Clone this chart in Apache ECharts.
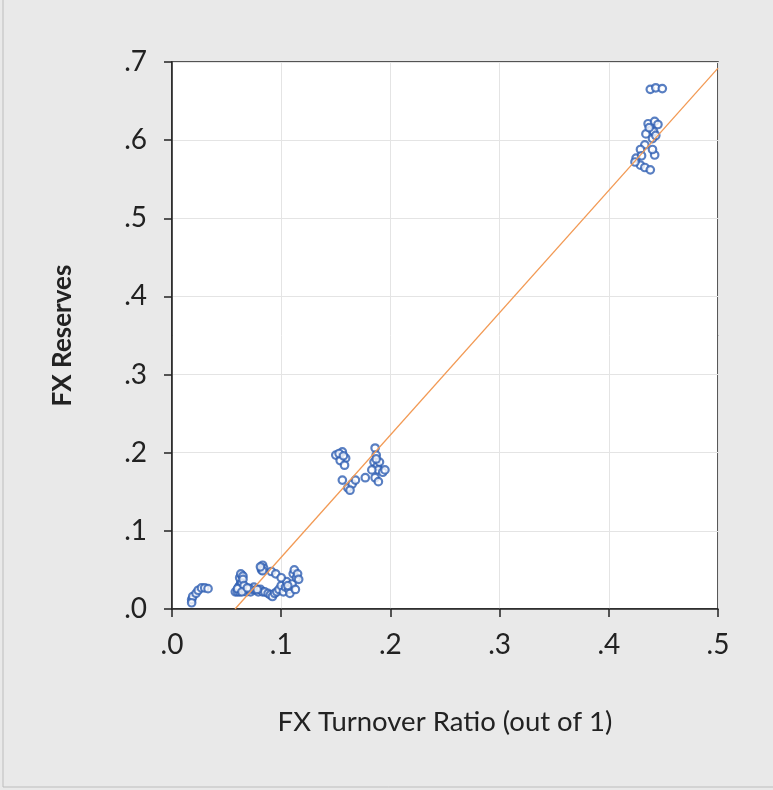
<!DOCTYPE html>
<html><head><meta charset="utf-8">
<script src="https://cdn.jsdelivr.net/npm/echarts@6/dist/echarts.min.js"></script>
<style>html,body{margin:0;padding:0;background:#e9e9e9;}#c{width:773px;height:790px;}</style>
</head><body><div id="c"></div>
<script>
// FX Turnover Ratio (x) and FX Reserves (y)
const turnover = [
 0.018,0.019,0.022,0.024,0.027,0.030,0.033,0.018,
 0.058,0.060,0.062,0.063,0.062,0.063,0.062,0.064,0.063,0.065,0.066,0.068,0.070,0.072,0.074,0.075,0.077,0.079,0.081,0.083,
 0.082,0.082,0.083,0.084,0.085,0.088,0.090,0.092,0.094,0.096,0.091,0.095,0.098,0.100,0.102,0.104,0.105,0.107,0.108,0.110,
 0.111,0.112,0.113,0.114,0.115,0.116,0.100,0.106,
 0.061,0.064,0.065,0.060,0.066,0.064,0.083,0.081,0.071,0.069,0.078,
 0.150,0.156,0.159,0.154,0.158,0.156,0.161,0.165,0.168,0.163,0.177,0.153,0.157,
 0.186,0.187,0.185,0.188,0.190,0.189,0.193,0.186,0.189,0.195,0.183,0.187,
 0.438,0.443,0.449,0.436,0.442,0.445,0.439,0.441,0.434,0.440,0.433,0.429,0.442,0.440,0.425,0.429,0.433,0.438,0.424,0.430,0.437,0.443
];
const reserves = [
 0.012,0.016,0.020,0.024,0.027,0.027,0.026,0.008,
 0.022,0.022,0.022,0.025,0.030,0.035,0.040,0.043,0.045,0.042,0.025,0.022,0.024,0.022,0.025,0.028,0.024,0.022,0.025,0.022,
 0.050,0.053,0.056,0.052,0.022,0.020,0.018,0.016,0.020,0.022,0.048,0.045,0.025,0.030,0.022,0.028,0.035,0.025,0.020,0.032,
 0.045,0.050,0.025,0.040,0.045,0.038,0.040,0.030,
 0.028,0.033,0.038,0.026,0.030,0.022,0.049,0.054,0.026,0.027,0.025,
 0.197,0.201,0.193,0.190,0.184,0.165,0.155,0.160,0.165,0.152,0.168,0.199,0.196,
 0.206,0.197,0.188,0.183,0.188,0.178,0.175,0.168,0.163,0.178,0.178,0.192,
 0.665,0.667,0.666,0.621,0.624,0.620,0.613,0.611,0.608,0.602,0.594,0.588,0.581,0.588,0.577,0.568,0.565,0.562,0.572,0.580,0.616,0.606
];
// fitted regression line: reserves = fitIntercept + fitSlope * turnover
const fitSlope = [1.565];
const fitIntercept = [-0.0903];
const xTicks = [0, 0.1, 0.2, 0.3, 0.4, 0.5];
const yTicks = [0, 0.1, 0.2, 0.3, 0.4, 0.5, 0.6, 0.7];

const pts = turnover.map((x, i) => [x, reserves[i]]);
const x0 = -fitIntercept[0] / fitSlope[0];
const x1 = xTicks[xTicks.length - 1];
const fitLine = [[x0, 0], [x1, fitIntercept[0] + fitSlope[0] * x1]];
const fmt = v => v.toFixed(1).replace(/^0/, '');

const chart = echarts.init(document.getElementById('c'), null, {renderer: 'canvas'});
chart.setOption({
  backgroundColor: '#e9e9e9',
  animation: false,
  graphic: [{type: 'rect', shape: {x: 3, y: -2, width: 772, height: 789}, style: {fill: 'none', stroke: '#bdbdbd', lineWidth: 1}}],
  grid: {left: 172, right: 55, top: 62, bottom: 181, show: true, backgroundColor: '#ffffff', borderColor: '#222', borderWidth: 1.5},
  xAxis: {
    type: 'value', min: 0, max: 0.5, interval: 0.1,
    name: 'FX Turnover Ratio (out of 1)', nameLocation: 'middle', nameGap: 99,
    nameTextStyle: {fontFamily: 'Lato', fontSize: 27.5, color: '#222'},
    axisLine: {show: true, onZero: false, lineStyle: {color: '#222', width: 1.5}},
    axisTick: {show: true, length: 8, lineStyle: {color: '#222', width: 1.5}},
    axisLabel: {formatter: fmt, fontFamily: 'Lato', fontSize: 28, color: '#222', margin: 22},
    splitLine: {show: true, lineStyle: {color: '#e4e4e4', width: 1}}
  },
  yAxis: {
    type: 'value', min: 0, max: 0.7, interval: 0.1,
    name: 'FX Reserves', nameLocation: 'middle', nameGap: 96,
    nameTextStyle: {fontFamily: 'Lato', fontSize: 26, fontWeight: 'bold', color: '#222'},
    axisLine: {show: true, onZero: false, lineStyle: {color: '#222', width: 1.5}},
    axisTick: {show: true, length: 8, lineStyle: {color: '#222', width: 1.5}},
    axisLabel: {formatter: fmt, fontFamily: 'Lato', fontSize: 28, color: '#222', margin: 25},
    splitLine: {show: true, lineStyle: {color: '#e4e4e4', width: 1}}
  },
  series: [
    {type: 'line', data: fitLine, symbol: 'none', lineStyle: {color: '#f29a55', width: 1.3}, z: 3},
    {type: 'scatter', data: pts, symbol: 'circle', symbolSize: 7.5,
     itemStyle: {color: '#ffffff', borderColor: '#2f5fb3', borderWidth: 2.2}, z: 2}
  ]
});
</script></body></html>
